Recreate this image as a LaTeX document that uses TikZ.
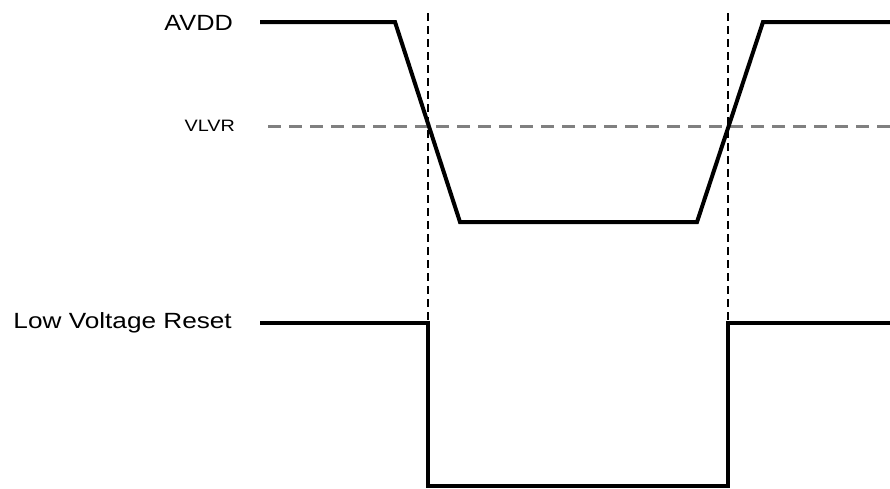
\documentclass[tikz,border=0pt]{standalone}
\usepackage{fontspec}
\setmainfont{Liberation Sans}
\begin{document}
\begin{tikzpicture}[x=1pt,y=-1pt,
  sig/.style={line width=4pt,line join=miter},
  vmark/.style={line width=1.4pt,dash pattern=on 8pt off 5pt},
  thr/.style={line width=3pt,gray,dash pattern=on 13pt off 8pt},
  lbl/.style={anchor=east,inner sep=0pt,font=\fontsize{22}{22}\selectfont},
  slbl/.style={anchor=east,inner sep=0pt,font=\fontsize{16.5}{16.5}\selectfont}]
\useasboundingbox (0,0) rectangle (890,488);
% labels
\node[lbl] (avdd) at (233,23) {\scalebox{1.15}[1]{AVDD}};
\node[slbl] (vlvr) at (235,126) {\scalebox{1.2}[1]{VLVR}};
\node[lbl] (lvr) at (232,323) {\scalebox{1.19}[1]{Low Voltage Reset}};
% coordinates
\coordinate (a0) at (260,22);
\coordinate (a1) at (395,22);
\coordinate (a2) at (460,222);
\coordinate (a3) at (697,222);
\coordinate (a4) at (763,22);
\coordinate (a5) at (892,22);
\coordinate (t0) at (268,126);
\coordinate (t1) at (892,126);
\coordinate (v1t) at (428,13);
\coordinate (v1b) at (428,488);
\coordinate (v2t) at (728,13);
\coordinate (v2b) at (728,488);
\coordinate (r0) at (260,323);
\coordinate (r1) at (428,323);
\coordinate (r2) at (428,486);
\coordinate (r3) at (728,486);
\coordinate (r4) at (728,323);
\coordinate (r5) at (892,323);
% guides
\draw[thr] (t0) -- (t1);
\draw[vmark] (v1t) -- (v1b);
\draw[vmark] (v2t) -- (v2b);
% signals
\draw[sig] (a0) -- (a1) -- (a2) -- (a3) -- (a4) -- (a5);
\draw[sig] (r0) -- (r1) -- (r2) -- (r3) -- (r4) -- (r5);
\end{tikzpicture}
\end{document}
